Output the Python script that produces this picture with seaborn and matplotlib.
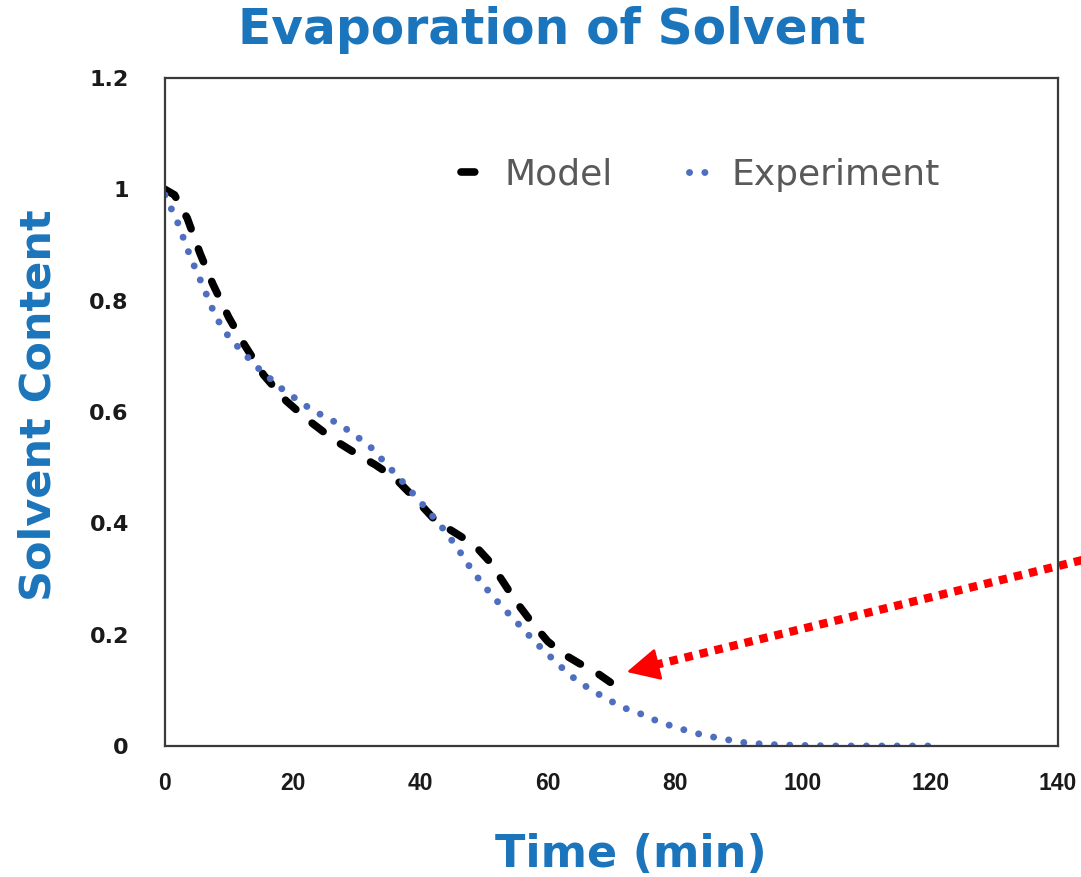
import matplotlib
matplotlib.use("Agg")
import matplotlib.pyplot as plt
import seaborn as sns
import pandas as pd

# ---- data ----
model_time = [0, 1.5, 3.5, 5.5, 7.5, 10, 12.5, 15.5, 19, 22.5, 26.5, 30, 33, 36, 39,
              42, 44.5, 47, 49, 51, 53, 55, 57.5, 60, 62.5, 65, 67.5, 70]
model_content = [1.0, 0.99, 0.948, 0.885, 0.83, 0.77, 0.72, 0.666, 0.62, 0.585, 0.55,
                 0.525, 0.505, 0.482, 0.447, 0.41, 0.39, 0.372, 0.355, 0.33, 0.295,
                 0.26, 0.222, 0.188, 0.165, 0.148, 0.133, 0.113]

exp_time = [0, 2, 4, 6, 8, 10, 12, 14.5, 18.5, 23, 27.5, 32, 34, 37, 41, 44, 46, 48,
            50, 52, 54, 56, 58, 60, 62, 64, 66, 68, 70, 72.5, 75, 77.5, 80, 82.5, 85,
            87.5, 90, 93, 96, 100, 105, 110, 115, 120]
exp_content = [0.99, 0.94, 0.878, 0.825, 0.77, 0.735, 0.71, 0.68, 0.64, 0.604, 0.577,
               0.54, 0.515, 0.478, 0.426, 0.385, 0.353, 0.318, 0.288, 0.261, 0.236,
               0.212, 0.187, 0.165, 0.143, 0.123, 0.107, 0.093, 0.08, 0.066, 0.056,
               0.043, 0.034, 0.025, 0.018, 0.013, 0.007, 0.004, 0.002, 0.001, 0.0,
               0.0, 0.0, 0.0]

x_ticks = [0, 20, 40, 60, 80, 100, 120, 140]
y_ticks = [0, 0.2, 0.4, 0.6, 0.8, 1.0, 1.2]
y_tick_labels = ["0", "0.2", "0.4", "0.6", "0.8", "1", "1.2"]

arrow_tail = (144.5, 0.336)
arrow_tip = (72.4, 0.133)

title = "Evaporation of Solvent"
x_label = "Time (min)"
y_label = "Solvent Content"

# ---- style ----
sns.set_theme(style="white")
plt.rcParams["font.family"] = ["DejaVu Sans"]
BLUE_TEXT = "#1B75BC"
EXP_BLUE = "#4F6EC0"

fig = plt.figure(figsize=(10.81, 8.77), dpi=100)
ax = fig.add_axes([0.1526, 0.1494, 0.8261, 0.7616])

model_df = pd.DataFrame({"Time": model_time, "Content": model_content})
exp_df = pd.DataFrame({"Time": exp_time, "Content": exp_content})

sns.lineplot(data=model_df, x="Time", y="Content", ax=ax, color="black",
             linewidth=5.5, linestyle=(0, (1.8, 2.8)), label="Model",
             solid_capstyle="round", dash_capstyle="round", sort=False)
sns.lineplot(data=exp_df, x="Time", y="Content", ax=ax, color=EXP_BLUE,
             linewidth=5.0, linestyle=(0, (0.01, 2.2)), label="Experiment",
             dash_capstyle="round", sort=False)

ax.set_xlim(0, 140)
ax.set_ylim(0, 1.2)
ax.set_xticks(x_ticks)
ax.set_yticks(y_ticks)
ax.set_yticklabels(y_tick_labels)
ax.tick_params(axis="both", length=0)
ax.tick_params(axis="y", pad=26)
ax.tick_params(axis="x", pad=19)
for lab in ax.get_yticklabels():
    lab.set_fontsize(16)
    lab.set_fontweight("bold")
    lab.set_color("#1a1a1a")
for lab in ax.get_xticklabels():
    lab.set_family(["Liberation Sans", "DejaVu Sans"])
    lab.set_fontsize(16.5)
    lab.set_fontweight("bold")
    lab.set_color("#1a1a1a")

for sp in ax.spines.values():
    sp.set_visible(True)
    sp.set_color("#3a3a3a")
    sp.set_linewidth(1.6)

ax.set_xlabel(x_label, fontsize=32, fontweight="bold", color=BLUE_TEXT)
ax.xaxis.set_label_coords(0.522, -0.13)
ax.set_ylabel(y_label, fontsize=31, fontweight="bold", color=BLUE_TEXT)
ax.yaxis.set_label_coords(-0.118, 0.51)
fig.text(0.51, 0.966, title, ha="center", va="center", fontsize=35,
         fontweight="bold", color=BLUE_TEXT)

leg = ax.legend(loc="center", bbox_to_anchor=(0.60, 0.855), ncol=2, frameon=False,
                fontsize=26, handlelength=0.7, handletextpad=0.5, columnspacing=2.1)
for t in leg.get_texts():
    t.set_color("#595959")

# red dotted arrow
ax.plot([arrow_tail[0], arrow_tip[0] + 3.5], [arrow_tail[1], arrow_tip[1] + 0.0099],
        color="#FF0000", linewidth=6, linestyle=(0, (1.0, 0.85)),
        solid_capstyle="butt", dash_capstyle="butt", clip_on=False)
ax.annotate("", xy=arrow_tip, xytext=(arrow_tip[0] + 5.0, arrow_tip[1] + 0.014),
            arrowprops=dict(arrowstyle="-|>,head_length=1.7,head_width=0.85",
                            color="#FF0000", lw=2, shrinkA=0, shrinkB=0),
            annotation_clip=False)

fig.savefig("out.png", dpi=100)
